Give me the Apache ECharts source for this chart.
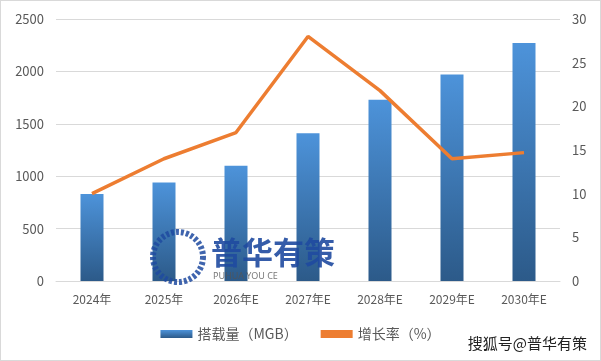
<!DOCTYPE html>
<html><head><meta charset="utf-8">
<script src="https://cdn.jsdelivr.net/npm/echarts@6/dist/echarts.min.js"></script>
<style>html,body{margin:0;padding:0;background:#fff}#c{width:599px;height:359px;border:1px solid #d9d9d9}</style>
</head><body><div id="c"></div>
<script>
const categories = ['2024年','2025年','2026年E','2027年E','2028年E','2029年E','2030年E'];
const capacity = [830, 940, 1100, 1410, 1730, 1970, 2270];
const growth = [10, 14, 17, 28, 21.8, 14, 14.7];
const leftTicks = [0, 2500, 500];
const rightTicks = [0, 30, 5];
const chart = echarts.init(document.getElementById('c'));
const lab = {color:'#595959', fontSize:13, fontFamily:'"Noto Sans CJK SC",sans-serif'};
chart.setOption({
  animation:false,
  grid:{left:55, right:40, top:18, bottom:79, containLabel:false},
  legend:{bottom:14, left:'center', itemGap:23, itemWidth:32, itemHeight:8,
    textStyle:{color:'#595959', fontSize:14, fontFamily:'"Noto Sans CJK SC",sans-serif'},
    data:[{name:'搭载量（MGB）', icon:'rect'},{name:'增长率（%）', icon:'rect', itemStyle:{color:'#ED7D31'}}]},
  xAxis:{type:'category', data:categories,
    axisLine:{lineStyle:{color:'#d9d9d9'}}, axisTick:{show:false},
    axisLabel:Object.assign({margin:12, fontSize:12}, lab, {fontSize:12})},
  yAxis:[
    {type:'value', min:leftTicks[0], max:leftTicks[1], interval:leftTicks[2],
     axisLabel:Object.assign({margin:12, formatter:v=>String(v)}, lab), splitLine:{lineStyle:{color:'#d9d9d9'}}, axisLine:{show:false}},
    {type:'value', min:rightTicks[0], max:rightTicks[1], interval:rightTicks[2],
     axisLabel:Object.assign({margin:12}, lab), splitLine:{show:false}, axisLine:{show:false}}
  ],
  series:[
    {name:'搭载量（MGB）', type:'bar', data:capacity, barWidth:23,
     itemStyle:{color:new echarts.graphic.LinearGradient(0,0,0,1,[{offset:0,color:'#4D93DA'},{offset:1,color:'#2C5A89'}])}},
    {name:'增长率（%）', type:'line', yAxisIndex:1, data:growth, symbol:'none',
     lineStyle:{color:'#ED7D31', width:3.5}, itemStyle:{color:'#ED7D31'}}
  ],
  graphic:[
    {type:'circle', shape:{cx:177, cy:256, r:25}, style:{fill:'none', stroke:'#1f4aa0', lineWidth:6, lineDash:[3,2], opacity:0.85}, z:100},
    {type:'text', left:210, top:236, style:{text:'普华有策', fill:'#1f4aa0', font:'bold 31px "Noto Sans CJK SC"', opacity:0.9}, z:100},
    {type:'text', left:212, top:271, style:{text:'PUHUA YOU CE', fill:'#555', font:'9px "Noto Sans"', opacity:0.8}, z:100},
    {type:'text', right:12, bottom:8, style:{text:'搜狐号@普华有策', fill:'#222', font:'15px "Noto Sans CJK SC"', stroke:'#fff', lineWidth:2}, z:100}
  ]
});
</script></body></html>
